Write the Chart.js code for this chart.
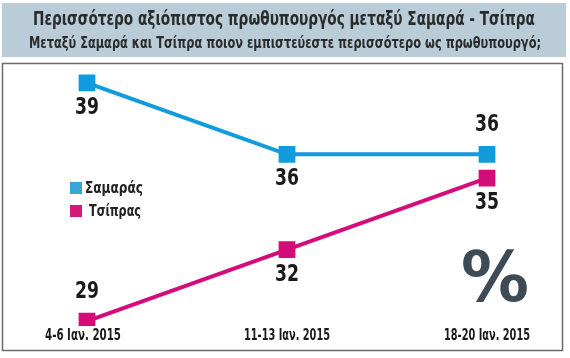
<!DOCTYPE html>
<html>
<head>
<meta charset="utf-8">
<script src="https://cdn.jsdelivr.net/npm/chart.js@4"></script>
<style>
  html, body { margin: 0; padding: 0; background: #fff; }
  #wrap { width: 570px; height: 358px; }
</style>
</head>
<body>
<div id="wrap"><canvas id="chart" width="570" height="358"></canvas></div>
<script>
const title = 'Περισσότερο αξιόπιστος πρωθυπουργός μεταξύ Σαμαρά - Τσίπρα';
const subtitle = 'Μεταξύ Σαμαρά και Τσίπρα ποιον εμπιστεύεστε περισσότερο ως πρωθυπουργό;';
const labels = ['4-6 Ιαν. 2015', '11-13 Ιαν. 2015', '18-20 Ιαν. 2015'];
const samaras = [39, 36, 36];
const tsipras = [29, 32, 35];
// where each value label sits: 1 = below point, -1 = above
const samarasSide = [1, 1, -1];
const tsiprasSide = [-1, 1, 1];

const narrow = '"DejaVu Sans Condensed", "DejaVu Sans", sans-serif';

const frame = {
  id: 'frame',
  beforeDraw(chart) {
    const c = chart.ctx;
    c.save();
    c.fillStyle = '#b9ccd8';
    c.fillRect(2, 3, 564, 54);
    c.strokeStyle = '#6b6b6b';
    c.lineWidth = 1.5;
    c.strokeRect(2.5, 63.5, 560, 287);
    c.textAlign = 'center';
    c.textBaseline = 'middle';
    c.fillStyle = '#2b2b2b';
    c.font = 'bold 19px ' + narrow;
    c.fillText(title, 284, 20, 502);
    c.font = 'bold 16px ' + narrow;
    c.fillText(subtitle, 285, 44, 512);
    c.fillStyle = '#3e4b55';
    c.font = 'bold 70px "DejaVu Sans", sans-serif';
    c.fillText('%', 495, 283, 68);
    c.restore();
  },
  afterDatasetsDraw(chart) {
    const c = chart.ctx;
    c.save();
    c.fillStyle = '#1a1a1a';
    c.font = 'bold 23px ' + narrow;
    c.textAlign = 'center';
    c.textBaseline = 'middle';
    const sides = [samarasSide, tsiprasSide];
    chart.data.datasets.forEach((ds, i) => {
      chart.getDatasetMeta(i).data.forEach((pt, j) => {
        const s = sides[i][j];
        c.fillText(String(ds.data[j]), pt.x, pt.y + (s > 0 ? 25 : -29), 24);
      });
    });
    // category labels, placed by the x scale
    const xs = chart.scales.x;
    c.font = 'bold 16px ' + narrow;
    chart.data.labels.forEach((t, j) => {
      const w = j === 0 ? 76 : 86;
      c.fillText(t, xs.getPixelForTick(j) - (j === 0 ? 4 : 0), 336, w);
    });
    // legend
    c.font = 'bold 15px ' + narrow;
    c.textAlign = 'left';
    const leg = [['Σαμαράς', '#3aa6d6', 188, 85, 58], ['Τσίπρας', '#d4197c', 211, 89, 52]];
    leg.forEach(([t, col, y, tx, w]) => {
      c.fillStyle = col;
      c.fillRect(70, y - 6, 12, 12);
      c.fillStyle = '#222';
      c.fillText(t, tx, y + 1, w);
    });
    c.restore();
  }
};

new Chart(document.getElementById('chart'), {
  type: 'line',
  data: {
    labels: labels,
    datasets: [
      {
        label: 'Σαμαράς',
        data: samaras,
        borderColor: '#109bdc',
        backgroundColor: '#109bdc',
        borderWidth: 4,
        pointStyle: 'rect',
        pointRadius: 9,
        pointHoverRadius: 9,
        tension: 0,
      },
      {
        label: 'Τσίπρας',
        data: tsipras,
        borderColor: '#d40c7a',
        backgroundColor: '#d40c7a',
        borderWidth: 4,
        pointStyle: 'rect',
        pointRadius: 9,
        pointHoverRadius: 9,
        tension: 0,
      },
    ],
  },
  options: {
    responsive: false,
    animation: false,
    layout: { padding: { left: 87, right: 83, top: 59, bottom: 0 } },
    plugins: { legend: { display: false }, tooltip: { enabled: false } },
    scales: {
      x: {
        offset: false,
        grid: { display: false },
        border: { display: false },
        afterFit: s => { s.height = 32; },
        ticks: { display: false },
      },
      y: { display: false, min: 28.8, max: 40 },
    },
  },
  plugins: [frame],
});
</script>
</body>
</html>
